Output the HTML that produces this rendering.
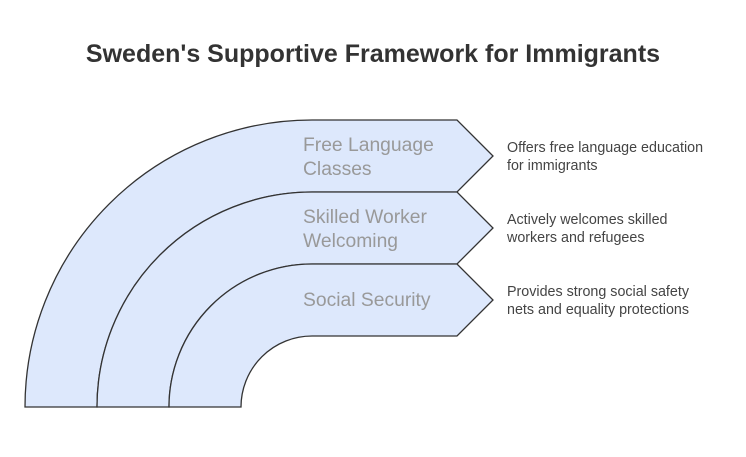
<!DOCTYPE html>
<html><head><meta charset="utf-8"><style>
body{margin:0;background:#fff;}
svg{display:block;font-family:"Liberation Sans",sans-serif;}
</style></head><body>
<svg width="746" height="457" viewBox="0 0 746 457">
<rect width="746" height="457" fill="#fff"/>
<text x="373" y="62" text-anchor="middle" font-size="25" font-weight="bold" fill="#333">Sweden's Supportive Framework for Immigrants</text>
<g fill="#dde8fc" stroke="#333" stroke-width="1.3" stroke-linejoin="miter">
<path d="M25,407 A287,287 0 0 1 312,120 L457,120 L493,156 L457,192 L312,192 A215,215 0 0 0 97,407 Z"/>
<path d="M97,407 A215,215 0 0 1 312,192 L457,192 L493,228 L457,264 L312,264 A143,143 0 0 0 169,407 Z"/>
<path d="M169,407 A143,143 0 0 1 312,264 L457,264 L493,300 L457,336 L312,336 A71,71 0 0 0 241,407 Z"/>
</g>
<g font-size="19.3" fill="#999">
<text x="303" y="151">Free Language</text>
<text x="303" y="175">Classes</text>
<text x="303" y="223">Skilled Worker</text>
<text x="303" y="247">Welcoming</text>
<text x="303" y="306">Social Security</text>
</g>
<g font-size="14.3" fill="#444">
<text x="507" y="152">Offers free language education</text>
<text x="507" y="170">for immigrants</text>
<text x="507" y="224">Actively welcomes skilled</text>
<text x="507" y="242">workers and refugees</text>
<text x="507" y="296">Provides strong social safety</text>
<text x="507" y="314">nets and equality protections</text>
</g>
</svg>
</body></html>
